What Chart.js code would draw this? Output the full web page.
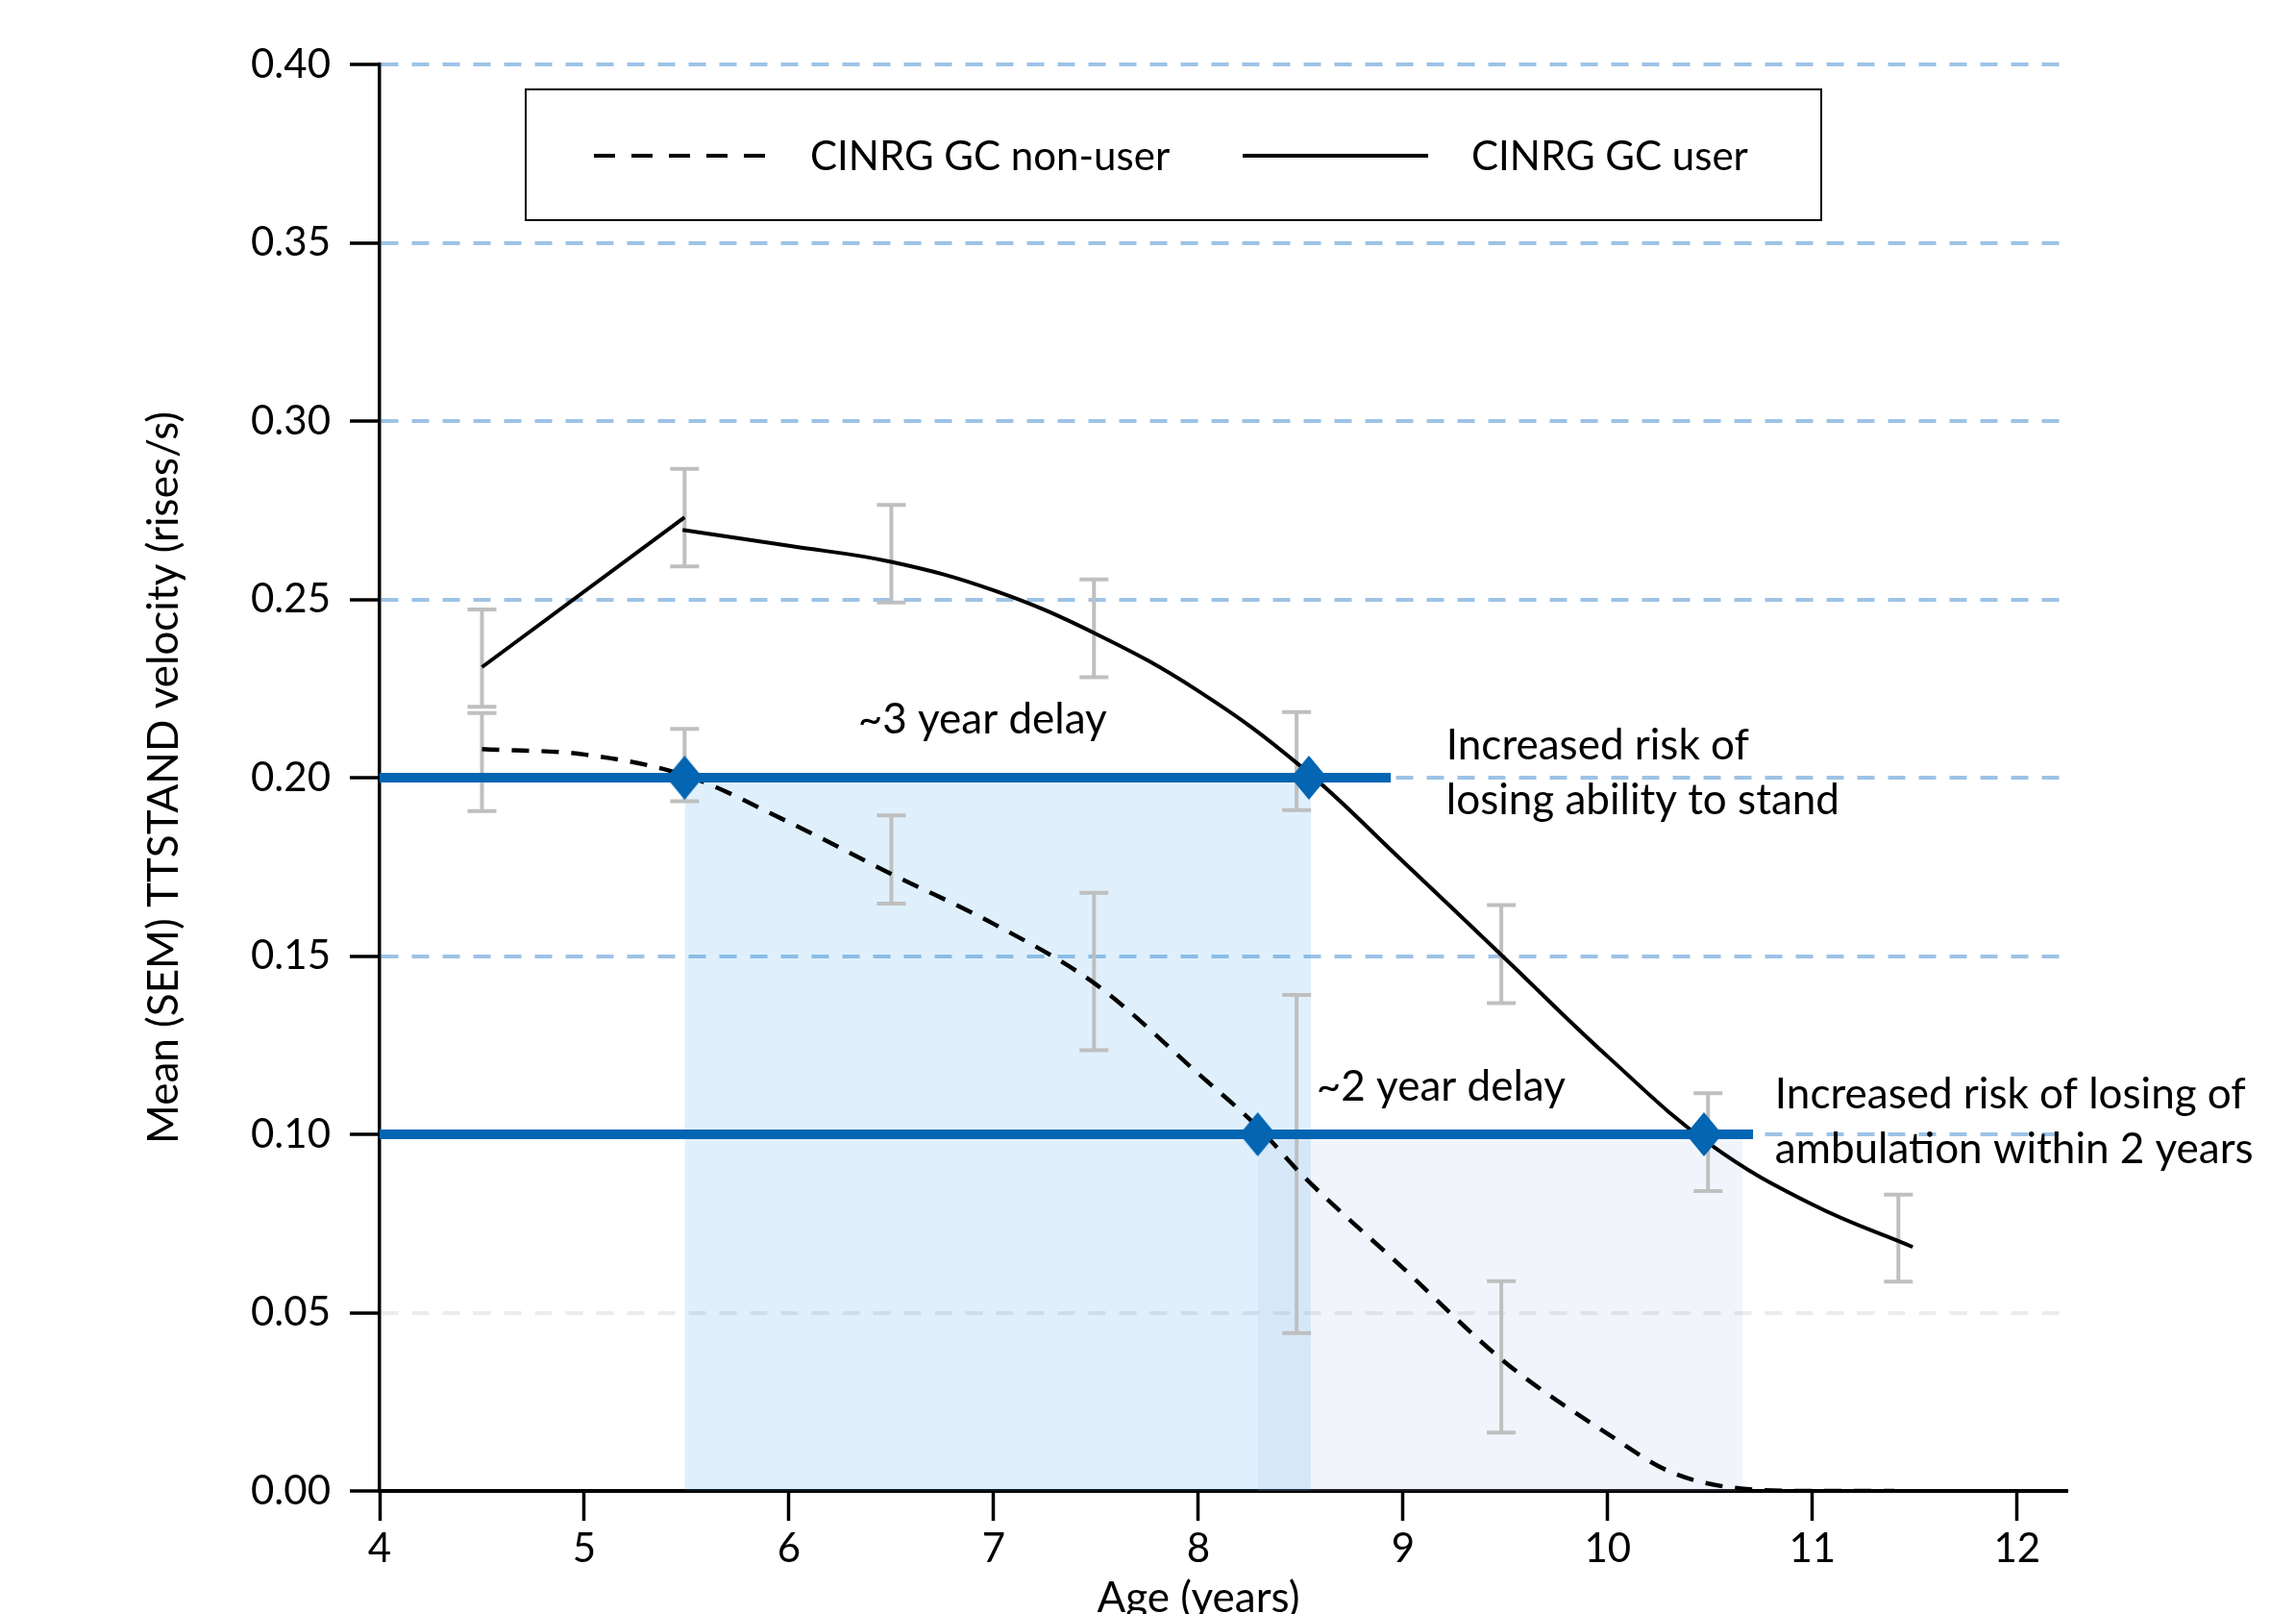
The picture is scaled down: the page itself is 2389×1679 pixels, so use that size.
<!DOCTYPE html>
<html>
<head>
<meta charset="utf-8">
<script src="https://cdn.jsdelivr.net/npm/chart.js@4.4.1/dist/chart.umd.min.js"></script>
<style>
  html, body { margin: 0; padding: 0; background: #fff; }
  #wrap { width: 2389px; height: 1679px; }
</style>
</head>
<body>
<div id="wrap"><canvas id="chart" width="2389" height="1679"></canvas></div>
<script>
// modelled TTSTAND velocity (rises/s) by age (years)
const nonUserAge = [4.5, 5.0, 5.5, 6.0, 6.5, 7.0, 7.5, 8.0, 8.3, 8.5, 9.0, 9.5, 10.0, 10.3, 10.6, 11.0, 11.4];
const nonUserVel = [0.208, 0.2065, 0.2005, 0.1875, 0.173, 0.159, 0.142, 0.117, 0.1015, 0.089, 0.0625, 0.036, 0.016, 0.0055, 0.001, 0, 0];

const userEarlyAge = [4.5, 5.49];
const userEarlyVel = [0.231, 0.273];
const userAge = [5.48, 6.0, 6.5, 7.0, 7.5, 8.0, 8.5, 9.0, 9.5, 10.0, 10.5, 11.0, 11.49];
const userVel = [0.2695, 0.265, 0.2605, 0.2525, 0.2403, 0.2243, 0.2032, 0.1765, 0.1492, 0.1218, 0.0972, 0.0803, 0.0684];

// observed mean +/- SEM
const userErrAge = [4.5, 5.49, 6.5, 7.49, 8.48, 9.48, 10.49, 11.42];
const userErrLow = [0.2199, 0.2592, 0.2491, 0.2282, 0.1909, 0.1368, 0.0841, 0.0587];
const userErrHigh = [0.2472, 0.2866, 0.2765, 0.2556, 0.2184, 0.1643, 0.1115, 0.0831];
const nonUserErrAge = [4.5, 5.49, 6.5, 7.49, 8.48, 9.48];
const nonUserErrLow = [0.1906, 0.1934, 0.1647, 0.1236, 0.0443, 0.0164];
const nonUserErrHigh = [0.2181, 0.2137, 0.1894, 0.1677, 0.1391, 0.0588];

// risk thresholds and where the curves cross them
const standLineAge = [4, 8.94];
const standLineVel = [0.20, 0.20];
const ambLineAge = [4, 10.71];
const ambLineVel = [0.10, 0.10];
const standDelayAge = [5.49, 8.55];
const ambDelayAge = [8.29, 10.66];
const crossAge = [5.49, 8.54, 8.29, 10.47];
const crossVel = [0.20, 0.20, 0.10, 0.10];

const yTicks = [0, 0.05, 0.10, 0.15, 0.20, 0.25, 0.30, 0.35, 0.40];
const xTicks = [4, 5, 6, 7, 8, 9, 10, 11, 12];

const BLUE = '#0465B2';
const FONT = 'Lato';
const pts = (xs, ys) => xs.map((v, i) => ({ x: v, y: ys[i] }));

function diamond(w, h, color) {
  const c = document.createElement('canvas');
  c.width = w; c.height = h;
  const g = c.getContext('2d');
  g.fillStyle = color;
  g.beginPath();
  g.moveTo(w / 2, 0); g.lineTo(w, h / 2); g.lineTo(w / 2, h); g.lineTo(0, h / 2);
  g.closePath();
  g.fill();
  return c;
}

const errorBars = {
  id: 'errorBars',
  beforeDatasetsDraw(chart) {
    const { ctx, scales: { x, y } } = chart;
    ctx.save();
    ctx.strokeStyle = '#BFBFBF';
    ctx.lineWidth = 4;
    const draw = (ages, lo, hi) => ages.forEach((a, i) => {
      const px = x.getPixelForValue(a);
      const t = y.getPixelForValue(hi[i]);
      const b = y.getPixelForValue(lo[i]);
      ctx.beginPath();
      ctx.moveTo(px, t); ctx.lineTo(px, b);
      ctx.moveTo(px - 15, t); ctx.lineTo(px + 15, t);
      ctx.moveTo(px - 15, b); ctx.lineTo(px + 15, b);
      ctx.stroke();
    });
    draw(userErrAge, userErrLow, userErrHigh);
    draw(nonUserErrAge, nonUserErrLow, nonUserErrHigh);
    ctx.restore();
  }
};

const notes = {
  id: 'notes',
  afterDatasetsDraw(chart) {
    const { ctx, scales: { x, y } } = chart;
    const put = (t, ax, vy) => ctx.fillText(t, x.getPixelForValue(ax), y.getPixelForValue(vy));
    ctx.save();
    ctx.font = `44px ${FONT}`;
    ctx.fillStyle = '#000';
    ctx.textAlign = 'left';
    ctx.textBaseline = 'alphabetic';
    put('~3 year delay', 6.337, 0.2124);
    put('~2 year delay', 8.577, 0.1094);
    put('Increased risk of', 9.211, 0.2051);
    put('losing ability to stand', 9.211, 0.1898);
    put('Increased risk of losing of', 10.817, 0.1073);
    put('ambulation within 2 years', 10.817, 0.0919);
    ctx.restore();
  }
};

const frame = {
  id: 'frame',
  afterDraw(chart) {
    const { ctx, chartArea, scales: { x } } = chart;
    ctx.save();
    // legend box
    ctx.fillStyle = '#fff';
    ctx.fillRect(547, 93, 1348, 136);
    ctx.strokeStyle = '#000';
    ctx.lineWidth = 2;
    ctx.strokeRect(547, 93, 1348, 136);
    const ds = chart.data.datasets;
    ctx.lineWidth = 4;
    ctx.setLineDash([22, 17]);
    ctx.beginPath(); ctx.moveTo(618, 162); ctx.lineTo(803, 162); ctx.stroke();
    ctx.setLineDash([]);
    ctx.beginPath(); ctx.moveTo(1293, 162); ctx.lineTo(1486, 162); ctx.stroke();
    ctx.font = `42px ${FONT}`;
    ctx.fillStyle = '#000';
    ctx.textBaseline = 'middle';
    ctx.textAlign = 'left';
    ctx.fillText(ds[0].label, 843, 163);
    ctx.fillText(ds[1].label, 1531, 163);
    // axis titles
    ctx.font = `44px ${FONT}`;
    ctx.textAlign = 'center';
    ctx.textBaseline = 'alphabetic';
    ctx.fillText('Age (years)', x.getPixelForValue(8), 1677);
    ctx.translate(171, (chartArea.top + chartArea.bottom) / 2);
    ctx.rotate(-Math.PI / 2);
    ctx.textBaseline = 'middle';
    ctx.fillText('Mean (SEM) TTSTAND velocity (rises/s)', 0, 0);
    ctx.restore();
  }
};

const near = (a, b) => Math.abs(a - b) < 1e-6;

function build() {
  new Chart(document.getElementById('chart'), {
    type: 'line',
    data: {
      datasets: [
        { label: 'CINRG GC non-user', data: pts(nonUserAge, nonUserVel), borderColor: '#000', borderWidth: 4.5,
          borderDash: [18, 13], cubicInterpolationMode: 'monotone', pointRadius: 0, fill: false, order: 4 },
        { label: 'CINRG GC user', data: pts(userAge, userVel), borderColor: '#000', borderWidth: 4,
          tension: 0.4, pointRadius: 0, fill: false, order: 4 },
        { label: 'CINRG GC user (4.5-5.5)', data: pts(userEarlyAge, userEarlyVel), borderColor: '#000', borderWidth: 4,
          tension: 0, pointRadius: 0, fill: false, order: 4 },
        { label: 'Stand threshold', data: pts(standLineAge, standLineVel), borderColor: BLUE, borderWidth: 10,
          tension: 0, pointRadius: 0, fill: false, order: 2 },
        { label: 'Ambulation threshold', data: pts(ambLineAge, ambLineVel), borderColor: BLUE, borderWidth: 10,
          tension: 0, pointRadius: 0, fill: false, order: 2 },
        { label: '~3 year delay', data: pts(standDelayAge, standLineVel), borderColor: 'transparent', borderWidth: 0,
          pointRadius: 0, fill: 'origin', backgroundColor: 'rgba(42,155,235,0.15)', order: 10 },
        { label: '~2 year delay', data: pts(ambDelayAge, ambLineVel), borderColor: 'transparent', borderWidth: 0,
          pointRadius: 0, fill: 'origin', backgroundColor: 'rgba(162,188,228,0.15)', order: 9 },
        { label: 'Crossings', data: pts(crossAge, crossVel), showLine: false, pointStyle: diamond(38, 46, BLUE),
          pointRadius: 23, order: 1 }
      ]
    },
    options: {
      responsive: false,
      animation: false,
      layout: { padding: { left: 0, right: 238, top: 67, bottom: 0 } },
      scales: {
        x: {
          type: 'linear', min: xTicks[0], max: 12.245,
          afterBuildTicks: s => { s.ticks = xTicks.map(v => ({ value: v })); },
          ticks: { font: { family: FONT, size: 42 }, color: '#000', padding: 4, maxRotation: 0,
            callback: v => String(v) },
          grid: { drawOnChartArea: false, drawTicks: true, tickLength: 31, tickColor: '#000', tickWidth: 3.5 },
          border: { display: true, color: '#000', width: 4 },
          afterFit: s => { s.height = 128; }
        },
        y: {
          type: 'linear', min: yTicks[0], max: yTicks[yTicks.length - 1],
          afterBuildTicks: s => { s.ticks = yTicks.map(v => ({ value: v })); },
          ticks: { font: { family: FONT, size: 42 }, color: '#000', padding: 20,
            callback: v => v.toFixed(2) },
          grid: {
            color: c => {
              const v = c.tick ? c.tick.value : -1;
              if (near(v, 0)) return 'rgba(0,0,0,0)';
              if (near(v, 0.05)) return '#ECECEC';
              return '#9DC3E6';
            },
            lineWidth: 4, drawTicks: true, tickLength: 31, tickColor: '#000', tickWidth: 3.5
          },
          border: { display: true, color: '#000', width: 3.5, dash: [18, 14] },
          afterFit: s => { s.width = 395; }
        }
      },
      plugins: {
        legend: { display: false },
        tooltip: { enabled: false },
        filler: { drawTime: 'beforeDatasetsDraw' }
      }
    },
    plugins: [errorBars, notes, frame]
  });
}

document.fonts.load(`42px ${FONT}`).then(build, build);
</script>
</body>
</html>
